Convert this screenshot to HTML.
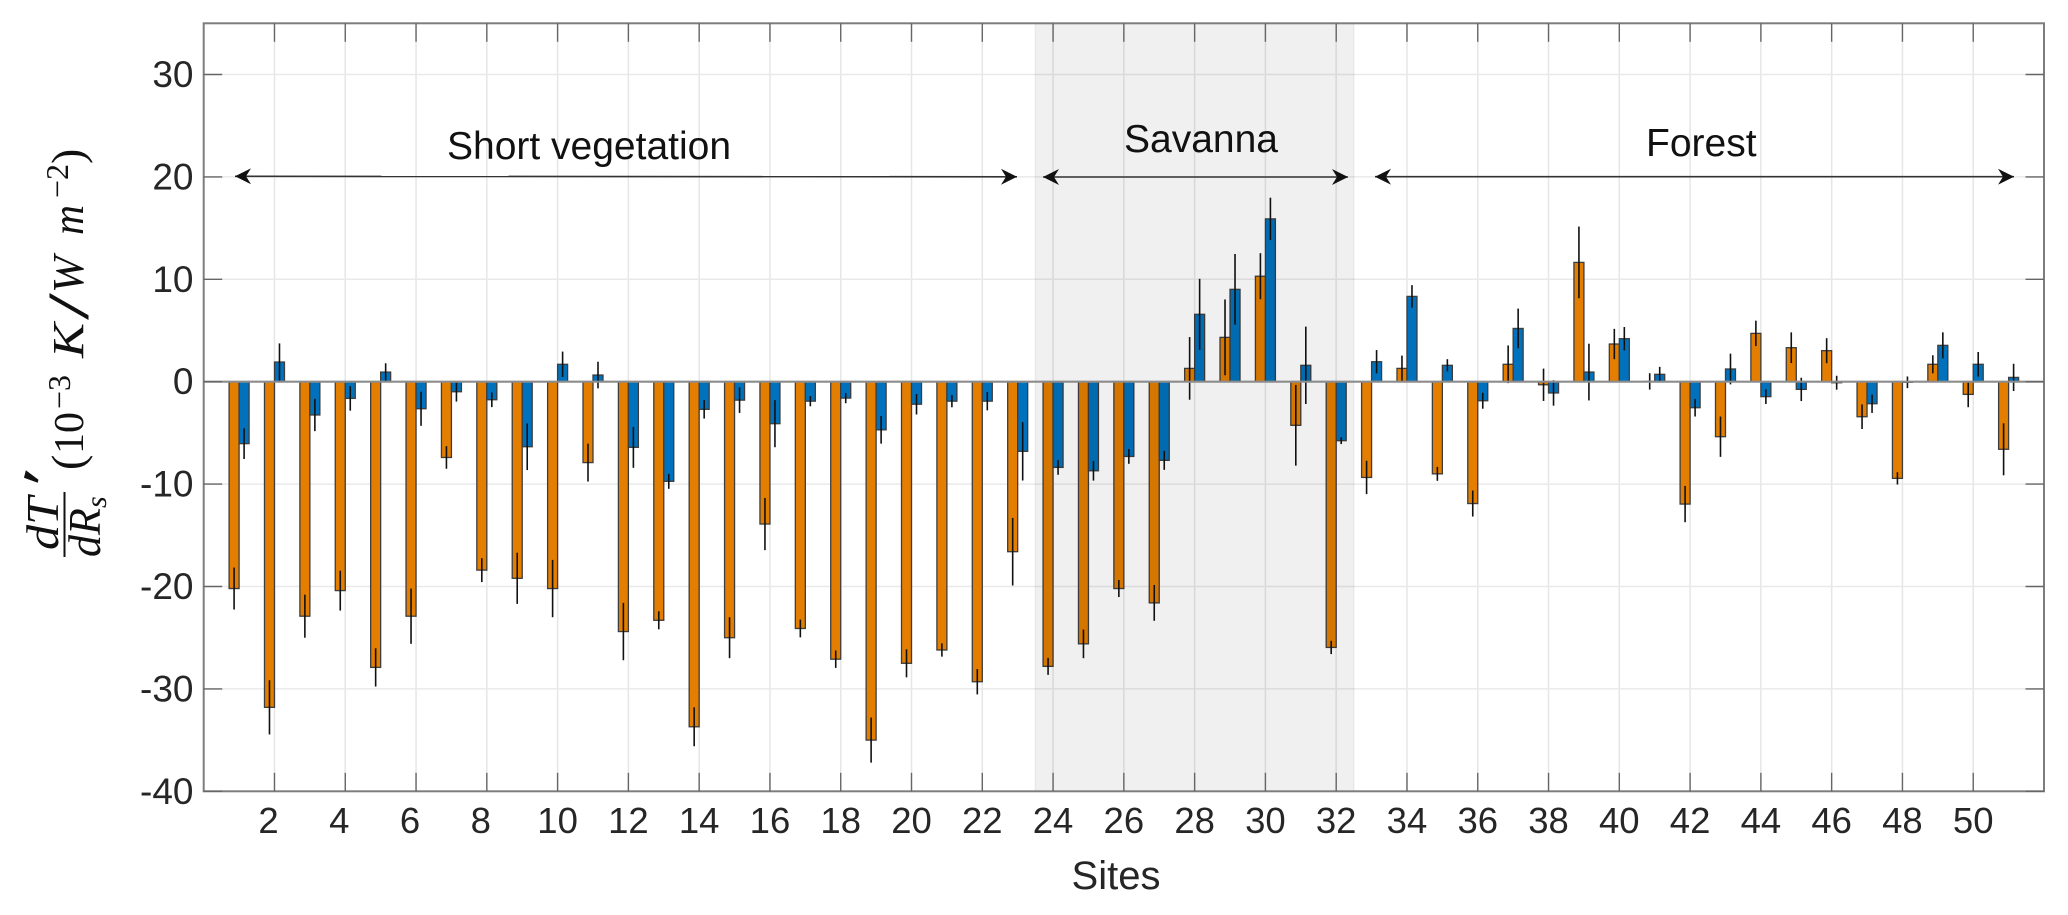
<!DOCTYPE html>
<html lang="en">
<head>
<meta charset="utf-8">
<title>dT/dRs by site</title>
<style>
html,body{margin:0;padding:0;background:#fff;}
svg{display:block;}
text{font-family:"Liberation Sans",Arial,sans-serif;}
.m{font-family:"Liberation Serif",serif;fill:#111;}
.i{font-style:italic;}
</style>
</head>
<body>
<svg id="chart" xmlns="http://www.w3.org/2000/svg" width="2068" height="915" viewBox="0 0 2068 915">
  <defs>
    <marker id="ah" viewBox="0 0 16 16" refX="16" refY="8" markerWidth="16" markerHeight="16" markerUnits="userSpaceOnUse" orient="auto-start-reverse">
      <path d="M0 0 L16 8 L0 16 L5 8 Z" fill="#111"/>
    </marker>
  </defs>
  <g id="grid"></g>
  <g id="bars"></g>
  <g id="errs"></g>
  <g id="shade"></g>
  <g id="axes"></g>
  <g id="labels"></g>

  <g>
    <text x="447" y="159" font-size="39" fill="#111">Short vegetation</text>
    <text x="1124" y="152" font-size="39" fill="#111">Savanna</text>
    <text x="1646" y="156" font-size="39" fill="#111">Forest</text>
    <line x1="235" y1="176.3" x2="1017" y2="176.8" stroke="#333" stroke-width="1.6" marker-start="url(#ah)" marker-end="url(#ah)"/>
    <line x1="1043" y1="177" x2="1348" y2="177" stroke="#333" stroke-width="1.6" marker-start="url(#ah)" marker-end="url(#ah)"/>
    <line x1="1375" y1="176.7" x2="2014" y2="176.7" stroke="#333" stroke-width="1.6" marker-start="url(#ah)" marker-end="url(#ah)"/>
  </g>

  <text x="1116" y="889" font-size="40" fill="#262626" text-anchor="middle">Sites</text>

  <g>
    <text class="m i" transform="translate(58,550) rotate(-90)" font-size="46" textLength="53" lengthAdjust="spacingAndGlyphs">dT</text>
    <line x1="64.5" y1="492" x2="64.5" y2="557" stroke="#111" stroke-width="2"/>
    <text class="m i" transform="translate(100,557) rotate(-90)" font-size="46" textLength="49" lengthAdjust="spacingAndGlyphs">dR</text>
    <text class="m i" transform="translate(106,508) rotate(-90)" font-size="30">s</text>
    <text class="m" transform="translate(62,493) rotate(-76)" font-size="62" font-weight="bold">′</text>
    <text class="m" transform="translate(83,470) rotate(-90)" font-size="46">(</text>
    <text class="m" transform="translate(83,454) rotate(-90)" font-size="42">10</text>
    <text class="m" transform="translate(70,409) rotate(-90)" font-size="32">−3</text>
    <text class="m i" transform="translate(83,358) rotate(-90)" font-size="44" textLength="35" lengthAdjust="spacingAndGlyphs">K</text>
    <text class="m" transform="translate(88,320) rotate(-90)" font-size="58" textLength="27" lengthAdjust="spacingAndGlyphs">/</text>
    <text class="m i" transform="translate(83,293) rotate(-90)" font-size="44" textLength="37" lengthAdjust="spacingAndGlyphs">W</text>
    <text class="m i" transform="translate(83,235) rotate(-90)" font-size="44" textLength="30" lengthAdjust="spacingAndGlyphs">m</text>
    <text class="m" transform="translate(68,198) rotate(-90)" font-size="32">−2</text>
    <text class="m" transform="translate(83,164) rotate(-90)" font-size="46">)</text>
  </g>
</svg>

<script>
const sites = [1,2,3,4,5,6,7,8,9,10,11,12,13,14,15,16,17,18,19,20,21,22,23,24,25,26,27,28,29,30,31,32,33,34,35,36,37,38,39,40,41,42,43,44,45,46,47,48,49,50,51];
const orangeValues = [-20.2,-31.8,-22.9,-20.4,-27.9,-22.9,-7.4,-18.4,-19.2,-20.2,-7.9,-24.4,-23.3,-33.7,-25,-13.9,-24.1,-27.1,-35,-27.5,-26.2,-29.3,-16.6,-27.8,-25.6,-20.2,-21.6,1.3,4.33,10.3,-4.26,-25.95,-9.35,1.3,-9.0,-11.9,1.7,-0.3,11.65,3.68,0.03,-11.95,-5.37,4.72,3.32,3.03,-3.42,-9.44,1.7,-1.24,-6.6];
const orangeErrors = [2.05,2.65,2.1,1.95,1.87,2.7,1.1,1.17,2.5,2.8,1.85,2.8,0.88,1.9,2,2.55,0.87,0.85,2.2,1.37,0.65,1.24,3.3,0.83,1.4,0.83,1.75,3.06,3.7,2.25,3.94,0.65,1.63,1.25,0.68,1.27,1.84,1.58,3.5,1.48,0.8,1.77,1.97,1.24,1.5,1.22,1.2,0.6,0.88,1.25,2.54];
const blueValues = [-6.05,1.92,-3.25,-1.63,0.94,-2.64,-0.98,-1.76,-6.35,1.7,0.65,-6.41,-9.73,-2.7,-1.8,-4.1,-1.9,-1.6,-4.7,-2.2,-1.9,-1.9,-6.8,-8.37,-8.7,-7.3,-7.68,6.58,9.02,15.9,1.6,-5.76,1.95,8.33,1.6,-1.86,5.2,-1.1,0.94,4.2,0.72,-2.54,1.24,-1.46,-0.75,-0.1,-2.15,-0.06,3.55,1.7,0.42];
const blueErrors = [1.5,1.82,1.58,1.2,0.86,1.67,0.96,0.72,2.28,1.24,1.3,2,0.73,0.9,1.25,2.3,0.5,0.5,1.35,1,0.6,0.9,2.85,0.72,0.96,0.72,0.93,3.47,3.45,2.07,3.78,0.33,1.14,1.1,0.6,0.78,1.94,1.24,2.77,1.14,0.73,0.86,1.5,0.72,1.14,0.68,0.9,0.57,1.27,1.2,1.33];
const xTicks = [2,4,6,8,10,12,14,16,18,20,22,24,26,28,30,32,34,36,38,40,42,44,46,48,50];
const yTicks = [30,20,10,0,-10,-20,-30,-40];
const xDomain = [0, 52];
const yDomain = [-40, 35];
const savannaSpan = [23.5, 32.5];

const plot = { left: 203.7, right: 2044, top: 23.3, bottom: 791.3 };
const barW = 10;
const SVGNS = 'http://www.w3.org/2000/svg';

function xScale(v) {
  return plot.left + (v - xDomain[0]) / (xDomain[1] - xDomain[0]) * (plot.right - plot.left);
}
function yScale(v) {
  return plot.bottom - (v - yDomain[0]) / (yDomain[1] - yDomain[0]) * (plot.bottom - plot.top);
}
function make(tag, parent, attrs) {
  const e = document.createElementNS(SVGNS, tag);
  for (const k in attrs) e.setAttribute(k, attrs[k]);
  parent.appendChild(e);
  return e;
}

const grid = document.getElementById('grid');
const bars = document.getElementById('bars');
const errs = document.getElementById('errs');
const shade = document.getElementById('shade');
const axes = document.getElementById('axes');
const labels = document.getElementById('labels');

xTicks.forEach(function (t) {
  const g = make('line', grid, { x1: xScale(t), x2: xScale(t), y1: plot.top, y2: plot.bottom, stroke: '#e6e6e6', 'stroke-width': 1.5 });
  
  
});
yTicks.forEach(function (t) {
  const g = make('line', grid, { x1: plot.left, x2: plot.right, y1: yScale(t), y2: yScale(t), stroke: '#e9e9e9', 'stroke-width': 1.5 });
  
  
});

function drawBar(site, value, offset, fill, name) {
  const y0 = yScale(0), y1 = yScale(value);
  const r = make('rect', bars, {
    x: xScale(site) + offset, y: Math.min(y0, y1), width: barW, height: Math.abs(y1 - y0),
    fill: fill, stroke: '#3d3d3d', 'stroke-width': 1.3
  });
  
  
}
function drawErr(site, value, err, offset, name) {
  const cx = xScale(site) + offset + barW / 2;
  const l = make('line', errs, {
    x1: cx, x2: cx, y1: yScale(value + err), y2: yScale(value - err),
    stroke: '#111', 'stroke-width': 1.6
  });
  
  
}
sites.forEach(function (s, i) {
  drawBar(s, orangeValues[i], -barW, '#E37E00', 'orange-bar-site-' + s);
  drawBar(s, blueValues[i], 0, '#0072BD', 'blue-bar-site-' + s);
});
sites.forEach(function (s, i) {
  drawErr(s, orangeValues[i], orangeErrors[i], -barW, 'orange-error-bar-site-' + s);
  drawErr(s, blueValues[i], blueErrors[i], 0, 'blue-error-bar-site-' + s);
});

const sx0 = xScale(savannaSpan[0]), sx1 = xScale(savannaSpan[1]);
const box = make('rect', shade, { x: sx0, y: plot.top, width: sx1 - sx0, height: plot.bottom - plot.top, fill: 'rgba(0,0,0,0.06)', stroke: 'rgba(0,0,0,0.05)', 'stroke-width': 1.5 });



const zero = make('line', axes, { x1: plot.left, x2: plot.right, y1: yScale(0), y2: yScale(0), stroke: '#8c8c8c', 'stroke-width': 2.2 });



const frame = make('rect', axes, { x: plot.left, y: plot.top, width: plot.right - plot.left, height: plot.bottom - plot.top, fill: 'none', stroke: '#7d7d7d', 'stroke-width': 2 });



const tickLen = 18.5;
xTicks.forEach(function (t) {
  const x = xScale(t);
  const a = make('line', axes, { x1: x, x2: x, y1: plot.bottom, y2: plot.bottom - tickLen, stroke: '#666', 'stroke-width': 1.4 });
  
  
  const b = make('line', axes, { x1: x, x2: x, y1: plot.top, y2: plot.top + tickLen, stroke: '#666', 'stroke-width': 1.4 });
  
  
  const lab = String(t);
  const tx = make('text', labels, { x: x + (lab.length === 1 ? -6 : 0), y: 833, 'font-size': 36.5, fill: '#262626', 'text-anchor': 'middle' });
  tx.textContent = lab;
  
  
});
yTicks.forEach(function (t) {
  const y = yScale(t);
  const a = make('line', axes, { x1: plot.left, x2: plot.left + tickLen, y1: y, y2: y, stroke: '#666', 'stroke-width': 1.4 });
  
  
  const b = make('line', axes, { x1: plot.right, x2: plot.right - tickLen, y1: y, y2: y, stroke: '#666', 'stroke-width': 1.4 });
  
  
  const tx = make('text', labels, { x: 193.5, y: y + 12.5, 'font-size': 37, fill: '#262626', 'text-anchor': 'end' });
  tx.textContent = String(t);
  
  
});
</script>
</body>
</html>
